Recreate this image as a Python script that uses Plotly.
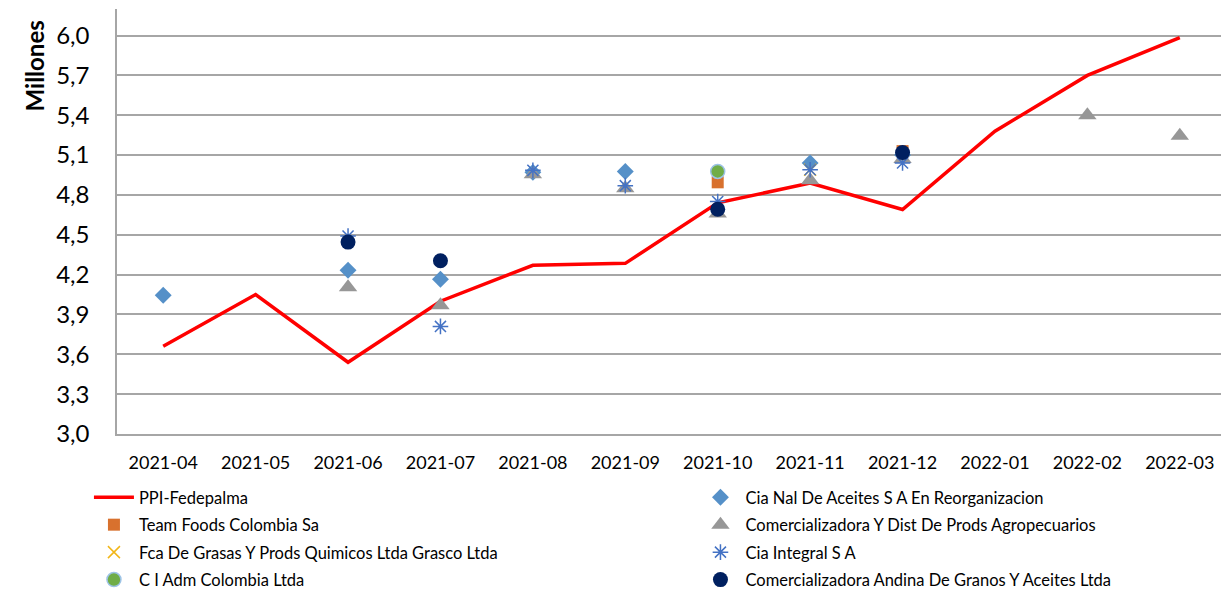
import plotly.graph_objects as go

months = ["2021-04", "2021-05", "2021-06", "2021-07", "2021-08", "2021-09",
          "2021-10", "2021-11", "2021-12", "2022-01", "2022-02", "2022-03"]

ppi = [3.66, 4.05, 3.54, 4.00, 4.27, 4.285, 4.74, 4.89, 4.69, 5.28, 5.70, 5.985]
cia_nal = [4.045, None, 4.233, 4.165, 4.97, 4.977, None, 5.04, 5.10, None, None, None]
team_foods = [None, None, None, None, None, None, 4.895, None, 5.13, None, None, None]
comer_dist = [None, None, 4.105, 3.97, 4.955, 4.85, 4.66, 4.91, 5.07, None, 5.40, 5.245]
grasco = [None, None, None, None, None, None, None, 4.99, None, None, None, None]
cia_integral = [None, None, 4.49, 3.81, 4.985, 4.87, 4.75, 4.99, 5.04, None, None, None]
ci_adm = [None, None, None, None, None, None, 4.977, None, None, None, None, None]
andina = [None, None, 4.445, 4.305, None, None, 4.692, None, 5.12, None, None, None]

y_ticks = [3.0, 3.3, 3.6, 3.9, 4.2, 4.5, 4.8, 5.1, 5.4, 5.7, 6.0]
y_title = "Millones"

FONT = "Lato"

fig = go.Figure()
fig.add_trace(go.Scatter(x=months, y=ppi, mode="lines", name="PPI-Fedepalma",
                         legend="legend", legendgroup="g1",
                         line=dict(color="#FF0000", width=3.5)))
fig.add_trace(go.Scatter(x=months, y=cia_nal, mode="markers",
                         name="Cia Nal De Aceites S A En Reorganizacion",
                         legend="legend2", legendgroup="g2",
                         marker=dict(symbol="diamond", size=13, color="#5590C8")))
fig.add_trace(go.Scatter(x=months, y=team_foods, mode="markers",
                         name="Team Foods Colombia Sa",
                         legend="legend", legendgroup="g3",
                         marker=dict(symbol="square", size=12, color="#D8712E")))
fig.add_trace(go.Scatter(x=months, y=comer_dist, mode="markers",
                         name="Comercializadora Y Dist De Prods Agropecuarios",
                         legend="legend2", legendgroup="g4",
                         marker=dict(symbol="triangle-up", size=16, color="#979797")))
fig.add_trace(go.Scatter(x=months, y=grasco, mode="markers",
                         name="Fca De Grasas Y Prods Quimicos Ltda Grasco Ltda",
                         legend="legend", legendgroup="g5",
                         marker=dict(symbol="x-thin-open", size=12, color="#F2B619",
                                     line=dict(color="#F2B619", width=1.5))))
fig.add_trace(go.Scatter(x=months, y=cia_integral, mode="markers",
                         name="Cia Integral S A",
                         legend="legend2", legendgroup="g6",
                         marker=dict(symbol="asterisk-open", size=13, color="#4472C4",
                                     line=dict(color="#4472C4", width=1.5))))
fig.add_trace(go.Scatter(x=months, y=ci_adm, mode="markers",
                         name="C I Adm Colombia Ltda",
                         legend="legend", legendgroup="g7",
                         marker=dict(symbol="circle", size=14, color="#70AD47",
                                     line=dict(color="#9DC3E6", width=1.5))))
fig.add_trace(go.Scatter(x=months, y=andina, mode="markers",
                         name="Comercializadora Andina De Granos Y Aceites Ltda",
                         legend="legend2", legendgroup="g8",
                         marker=dict(symbol="circle", size=15, color="#002060")))

legend_common = dict(orientation="v", yref="container", y=0.2, yanchor="top",
                     xanchor="left", traceorder="grouped", tracegroupgap=3,
                     font=dict(family=FONT, size=16.5, color="#000000"),
                     itemwidth=40, bgcolor="rgba(0,0,0,0)")

fig.update_layout(
    width=1229, height=590,
    margin=dict(l=109, r=11, t=1, b=164, autoexpand=False),
    paper_bgcolor="white", plot_bgcolor="white",
    separators=",.",
    font=dict(family=FONT, color="#000000", size=16),
    showlegend=True,
    legend=dict(x=-0.0253, **legend_common),
    legend2=dict(x=0.5216, **legend_common),
    xaxis=dict(type="category", showgrid=False, showline=True, linecolor="#A6A6A6",
               linewidth=1.5, ticks="", ticklabelstandoff=12,
               tickfont=dict(family=FONT, size=18, color="#000000"),
               range=[-0.5, 11.5]),
    yaxis=dict(range=[3.0, 6.2], tickvals=y_ticks, tickformat=".1f",
               showgrid=True, gridcolor="#A6A6A6", gridwidth=1.5,
               showline=True, linecolor="#A6A6A6", linewidth=1.5,
               zeroline=False, ticks="", ticklabelstandoff=21,
               tickfont=dict(family=FONT, size=24, color="#000000")),
    annotations=[dict(text="<b>" + y_title + "</b>", xref="paper", yref="paper",
                      x=-0.074, y=0.867, textangle=-90, showarrow=False,
                      xanchor="center", yanchor="middle",
                      font=dict(family=FONT, size=24, color="#000000"))],
)

fig.write_html("out.html")
